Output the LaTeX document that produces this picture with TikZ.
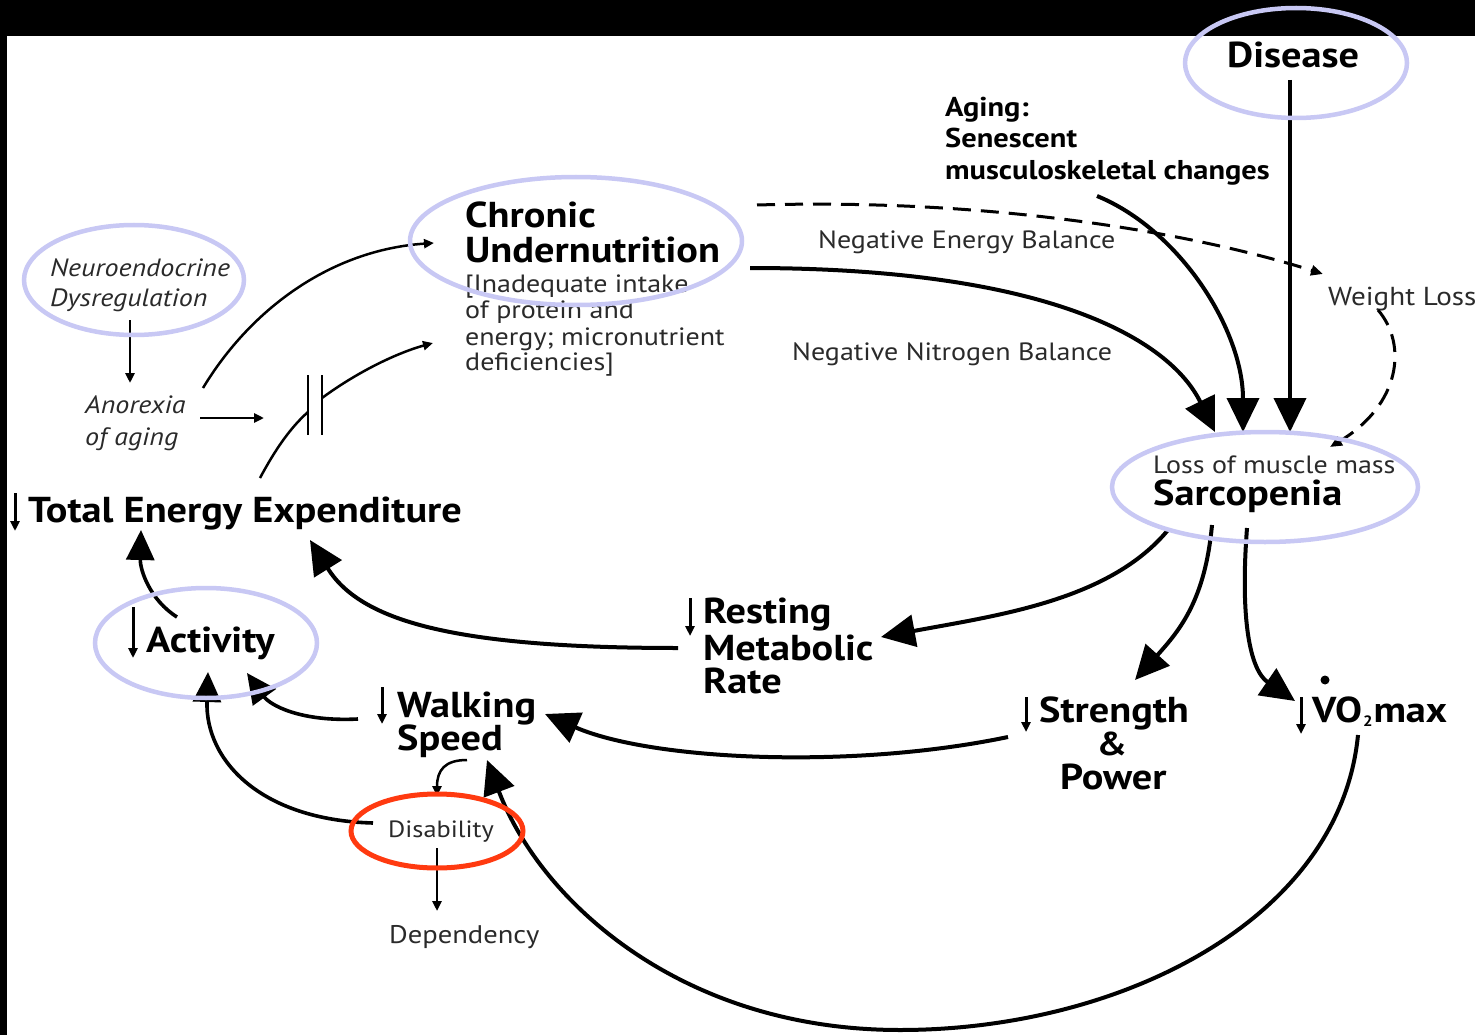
\documentclass[tikz,border=0pt]{standalone}
\usepackage{fontspec}
\setmainfont{PT Sans}[FakeStretch=1.12]
\usetikzlibrary{arrows.meta}
\definecolor{lav}{HTML}{C8C8F4}
\definecolor{redring}{HTML}{FF3A10}
\definecolor{txt}{HTML}{2A2A2A}
\begin{document}
\begin{tikzpicture}[x=1pt,y=-1pt,
  lbl/.style={anchor=base west, inner sep=0pt, text=txt, font=\fontsize{25}{28}\selectfont},
  ilbl/.style={anchor=base west, inner sep=0pt, text=txt, font=\itshape\fontsize{25}{28}\selectfont},
  blbl/.style={anchor=base west, inner sep=0pt, text=black, font=\bfseries\fontsize{36}{40}\selectfont},
  mlbl/.style={anchor=base west, inner sep=0pt, text=black, font=\bfseries\fontsize{27.2}{30}\selectfont},
  ring/.style={draw=lav, line width=4.5pt},
  redr/.style={draw=redring, line width=5pt},
  bigarrow/.style={line width=4pt, -{Triangle[length=34pt,width=32pt]}},
  midarrow/.style={line width=3.6pt, -{Triangle[length=30pt,width=28pt]}},
  thinarrow/.style={line width=2.5pt, -{Triangle[length=10pt,width=9pt]}},
  dashline/.style={line width=3pt, dash pattern=on 18pt off 10pt},
  dmark/.style={line width=3pt, -{Triangle[length=10pt,width=9pt]}}
]
\useasboundingbox (0,0) rectangle (1475,1035);
\fill[white] (0,0) rectangle (1475,1035);
\fill[black] (0,0) rectangle (1475,36);
\fill[black] (0,36) rectangle (7,1035);

% ---------- texts ----------
\node[ilbl] (neuro1) at (50,276) {Neuroendocrine};
\node[ilbl] (neuro2) at (50,306) {Dysregulation};
\node[ilbl] (anor1) at (85,413) {Anorexia};
\node[ilbl] (anor2) at (85,445) {of aging};

\node[blbl] (chr1) at (465,228) {Chronic};
\node[blbl] (chr2) at (465,262) {Undernutrition};
\node[lbl] (chr3) at (465,292) {[Inadequate intake};
\node[lbl] (chr4) at (465,318) {of protein and};
\node[lbl] (chr5) at (465,345) {energy; micronutrient};
\node[lbl] (chr6) at (465,370) {deficiencies]};

\node[lbl] (neb) at (818,248) {Negative Energy Balance};
\node[lbl] (nnb) at (792,360) {Negative Nitrogen Balance};

\node[mlbl] (ag1) at (945,117) {Aging:};
\node[mlbl] (ag2) at (945,148) {Senescent};
\node[mlbl] (ag3) at (945,180) {musculoskeletal changes};

\node[blbl] (dis) at (1227,68) {Disease};
\node[lbl, font=\fontsize{26}{28}\selectfont] (wl) at (1328,305) {Weight Loss};

\node[lbl] (loss) at (1153,473) {Loss of muscle mass};
\node[blbl] (sarc) at (1153,505) {Sarcopenia};

\node[blbl] (tee) at (28,522) {Total Energy Expenditure};
\node[blbl] (act) at (146,652) {Activity};

\node[blbl] (rest1) at (703,623) {Resting};
\node[blbl] (rest2) at (703,660) {Metabolic};
\node[blbl] (rest3) at (703,693) {Rate};

\node[blbl] (walk1) at (397,717) {Walking};
\node[blbl] (walk2) at (397,750) {Speed};

\node[blbl] (str1) at (1039,722) {Strength};
\node[blbl, anchor=base, font=\bfseries\fontsize{33}{36}\selectfont] (str2) at (1112,755) {\&};
\node[blbl] (str3) at (1060,789) {Power};

\node[blbl] (vo2) at (1312,722) {VO\kern1pt\raisebox{-4pt}{\fontsize{15}{15}\selectfont 2}\kern1pt max};
\fill (1325,680) circle (4.5pt);

\node[lbl, font=\fontsize{23.5}{28}\selectfont] (disab) at (388,837) {Disability};
\node[lbl, font=\fontsize{25.5}{28}\selectfont] (dep) at (389,943) {Dependency};

% ---------- down marks ----------
\draw[dmark] (15,493) -- (15,531);
\draw[dmark] (133,607) -- (133,658);
\draw[dmark] (690,598) -- (690,636);
\draw[dmark] (382,687) -- (382,724);
\draw[dmark] (1026,697) -- (1026,732);
\draw[dmark] (1301,697) -- (1301,734);

% ---------- connector end points ----------
\coordinate (neuroS) at (130,320);
\coordinate (anorT) at (130,383);
\coordinate (anorR) at (200,418);
\coordinate (barL) at (264,418);
\coordinate (anorU) at (203,388);
\coordinate (chrIn1) at (434,243);
\coordinate (teeU) at (260,478);
\coordinate (bar1) at (308,412);
\coordinate (bar2) at (322,398);
\coordinate (chrIn2) at (433,343);
\coordinate (chrOutD) at (757,205);
\coordinate (wlIn) at (1323,274);
\coordinate (wlOut) at (1378,310);
\coordinate (sarcWL) at (1330,447);
\coordinate (chrOut) at (750,268);
\coordinate (sarcIn1) at (1215,432);
\coordinate (agOut) at (1097,196);
\coordinate (sarcIn2) at (1243,432);
\coordinate (disOut) at (1290,80);
\coordinate (sarcIn3) at (1290,432);
\coordinate (sarcO1) at (1168,530);
\coordinate (rmrIn) at (881,637);
\coordinate (sarcO2) at (1212,525);
\coordinate (strIn) at (1135,680);
\coordinate (sarcO3) at (1247,528);
\coordinate (voIn) at (1295,701);
\coordinate (strOut) at (1008,737);
\coordinate (walkIn) at (545,714);
\coordinate (rmrOut) at (678,648);
\coordinate (teeIn2) at (310,540);
\coordinate (actOut) at (177,617);
\coordinate (teeIn1) at (141,530);
\coordinate (walkOut) at (358,719);
\coordinate (actIn2) at (247,673);
\coordinate (disabOut) at (373,823);
\coordinate (actIn1) at (208,672);
\coordinate (speedOut) at (467,760);
\coordinate (disabIn) at (437,796);
\coordinate (disabD) at (437,848);
\coordinate (depIn) at (437,911);
\coordinate (voOut) at (1358,735);
\coordinate (bottom) at (900,1030);
\coordinate (speedIn) at (487,760);

% ---------- connectors ----------
\draw[thinarrow] (neuroS) -- (anorT);
\draw[thinarrow] (anorR) -- (barL);
\draw[thinarrow] (anorU) .. controls (250,310) and (330,250) .. (chrIn1);
\draw[line width=2.5pt] (teeU) .. controls (275,450) and (290,428) .. (bar1);
\draw[thinarrow] (bar2) .. controls (360,370) and (400,352) .. (chrIn2);
\draw[line width=2.8pt] (308,375) -- (308,435);
\draw[line width=2.8pt] (322,375) -- (322,435);

\draw[dashline, -{Triangle[length=12pt,width=10pt]}] (chrOutD) .. controls (1000,198) and (1200,235) .. (wlIn);
\draw[dashline, -{Triangle[length=12pt,width=10pt]}] (wlOut) .. controls (1408,345) and (1400,405) .. (sarcWL);

\draw[bigarrow] (chrOut) .. controls (1050,268) and (1170,340) .. (sarcIn1);
\draw[bigarrow] (agOut) .. controls (1180,230) and (1243,330) .. (sarcIn2);
\draw[bigarrow] (disOut) -- (sarcIn3);

\draw[bigarrow] (sarcO1) .. controls (1110,600) and (1000,615) .. (rmrIn);
\draw[bigarrow] (sarcO2) .. controls (1205,600) and (1180,630) .. (strIn);
\draw[bigarrow] (sarcO3) .. controls (1240,620) and (1250,670) .. (voIn);
\draw[bigarrow] (strOut) .. controls (850,770) and (650,760) .. (walkIn);
\draw[bigarrow] (rmrOut) .. controls (450,648) and (360,620) .. (teeIn2);
\draw[midarrow] (actOut) .. controls (150,600) and (140,570) .. (teeIn1);
\draw[midarrow] (walkOut) .. controls (300,722) and (270,705) .. (actIn2);
\draw[midarrow] (disabOut) .. controls (260,820) and (205,760) .. (actIn1);
\draw[thinarrow] (speedOut) .. controls (445,760) and (437,770) .. (disabIn);
\draw[thinarrow] (disabD) -- (depIn);
\draw[bigarrow] (voOut) .. controls (1340,920) and (1120,1030) .. (bottom)
   .. controls (680,1030) and (540,900) .. (speedIn);

% ---------- rings ----------
\draw[ring] (134,280) ellipse [x radius=110pt, y radius=55pt];
\draw[ring] (576,241) ellipse [x radius=166pt, y radius=64pt];
\draw[ring] (1296,63) ellipse [x radius=111pt, y radius=55pt];
\draw[ring] (1265,487) ellipse [x radius=153pt, y radius=55pt];
\draw[ring] (206,643) ellipse [x radius=111pt, y radius=55pt];
\draw[redr] (437,831) ellipse [x radius=86pt, y radius=37pt];
\end{tikzpicture}
\end{document}
